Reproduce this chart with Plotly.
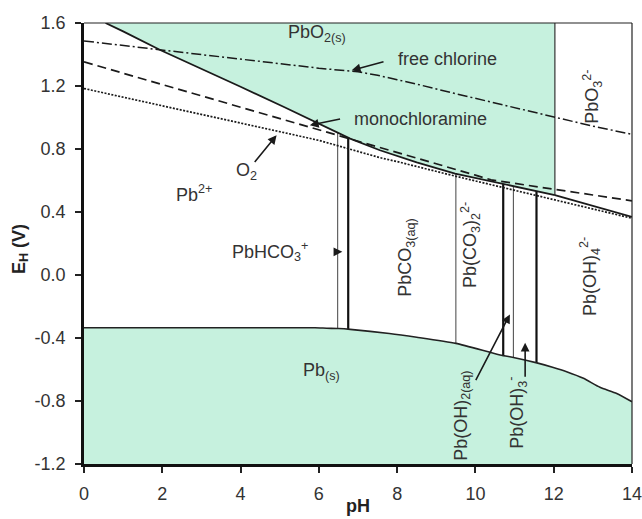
import numpy as np
import plotly.graph_objects as go

# ---------------- data ----------------
# PbO2(s) / Pb(II) boundary
ph_pbo2 = [0.55, 1.0, 1.96, 3.0, 4.0, 5.11, 6.03, 6.8, 7.56, 8.5, 9.48, 10.5, 11.5, 12.03]
e_pbo2 = [1.60, 1.547, 1.427, 1.31, 1.195, 1.067, 0.955, 0.866, 0.792, 0.715, 0.644, 0.589, 0.535, 0.507]

# PbO3^2- / Pb(OH)4^2- boundary
ph_pbo3 = [12.03, 13.0, 14.0]
e_pbo3 = [0.507, 0.44, 0.369]
ph_pbo2_edge = 12.03

# Pb(s) / Pb(II) boundary
ph_pb = [0, 2, 4, 5.9, 6.2, 6.5, 6.8, 7.8, 8.5, 9.5, 10.63, 11.0, 11.57, 11.99, 12.33,
         12.76, 13.18, 13.61, 14]
e_pb = [-0.335, -0.335, -0.335, -0.335, -0.338, -0.340, -0.345, -0.371, -0.395, -0.434,
        -0.508, -0.525, -0.558, -0.587, -0.614, -0.656, -0.713, -0.752, -0.805]

# aqueous species boundaries (pH), thick or thin
ph_vert = [6.48, 6.75, 9.50, 10.71, 10.97, 11.56]
vert_thick = [False, True, False, True, False, True]

# oxidant lines
ph_cl = [0, 1, 2, 3, 4, 5, 6, 7, 7.5, 8, 8.5, 9.43, 10.5, 12, 13, 14]
e_cl = [1.486, 1.457, 1.427, 1.398, 1.37, 1.34, 1.313, 1.29, 1.268, 1.24, 1.212, 1.155,
        1.092, 1.004, 0.945, 0.893]

ph_nh2cl = [0, 2, 4, 5.11, 6, 7, 8, 9, 10, 10.4, 11, 12, 13, 14]
e_nh2cl = [1.353, 1.21, 1.066, 0.983, 0.92, 0.85, 0.778, 0.706, 0.634, 0.604, 0.581,
           0.545, 0.508, 0.471]

ph_o2 = [0, 2, 4, 5.11, 6, 7.56, 8, 9.48, 10, 12, 14]
e_o2 = [1.184, 1.075, 0.965, 0.908, 0.855, 0.745, 0.72, 0.628, 0.597, 0.478, 0.36]

x_ticks = [0, 2, 4, 6, 8, 10, 12, 14]
y_ticks = [-1.2, -0.8, -0.4, 0.0, 0.4, 0.8, 1.2, 1.6]
y_tick_text = ["-1.2", "-0.8", "-0.4", "0.0", "0.4", "0.8", "1.2", "1.6"]

# region labels: text, pH, E, angle
lab_text = ["PbO<sub>2(s)</sub>", "Pb<sup>2+</sup>", "PbHCO<sub>3</sub><sup>+</sup>",
            "PbCO<sub>3(aq)</sub>", "Pb(CO<sub>3</sub>)<sub>2</sub><sup>2-</sup>",
            "Pb(OH)<sub>4</sub><sup>2-</sup>", "PbO<sub>3</sub><sup>2-</sup>",
            "Pb<sub>(s)</sub>", "Pb(OH)<sub>2(aq)</sub>", "Pb(OH)<sub>3</sub><sup>-</sup>",
            "free chlorine", "monochloramine", "O<sub>2</sub>"]
lab_ph = [5.95, 2.8, 4.75, 8.24, 9.86, 12.93, 12.97, 6.06, 9.65, 11.05, 9.29, 8.6, 4.16]
lab_e = [1.535, 0.517, 0.147, 0.107, 0.19, -0.012, 1.13, -0.614, -0.896, -0.877, 1.374, 0.993, 0.655]
lab_angle = [0, 0, 0, -90, -90, -90, -90, 0, -90, -90, 0, 0, 0]

# arrows: (start pH, start E) -> (tip pH, tip E)
arr_from_ph = [7.69, 6.58, 4.33, 9.99, 11.27, 6.42]
arr_from_e = [1.357, 0.993, 0.708, -0.677, -0.656, 0.147]
arr_to_ph = [6.84, 5.77, 4.92, 10.88, 11.27, 6.60]
arr_to_e = [1.30, 0.951, 0.887, -0.25, -0.43, 0.147]

# ---------------- figure ----------------
MINT = "#C6F1DE"
INK = "#1a1a1a"
FONT = "Liberation Sans, Arial, sans-serif"

fig = go.Figure()

# PbO2(s) region
fig.add_trace(go.Scatter(x=ph_pbo2 + [ph_pbo2_edge], y=e_pbo2 + [1.6], fill="toself",
                         fillcolor=MINT, mode="lines", line=dict(width=0),
                         hoverinfo="skip", showlegend=False))
# Pb(s) region
fig.add_trace(go.Scatter(x=ph_pb + [14, 0], y=e_pb + [-1.2, -1.2], fill="toself",
                         fillcolor=MINT, mode="lines", line=dict(width=0),
                         hoverinfo="skip", showlegend=False))

# vertical boundaries between aqueous species
v_top = np.interp(ph_vert, ph_pbo2, e_pbo2)
v_bot = np.interp(ph_vert, ph_pb, e_pb)
for p, t, b, thick in zip(ph_vert, v_top, v_bot, vert_thick):
    fig.add_trace(go.Scatter(x=[p, p], y=[b, t], mode="lines",
                             line=dict(color="#111" if thick else "#555",
                                       width=2.2 if thick else 1.1),
                             hoverinfo="skip", showlegend=False))

# PbO2 / PbO3 vertical
fig.add_trace(go.Scatter(x=[ph_pbo2_edge, ph_pbo2_edge], y=[e_pbo3[0], 1.6], mode="lines",
                         line=dict(color="#333", width=1.2), hoverinfo="skip", showlegend=False))

# oxidant lines
fig.add_trace(go.Scatter(x=ph_cl, y=e_cl, mode="lines",
                         line=dict(color=INK, width=1.5, dash="10px,3px,2px,3px"),
                         hoverinfo="skip", showlegend=False))
fig.add_trace(go.Scatter(x=ph_nh2cl, y=e_nh2cl, mode="lines",
                         line=dict(color=INK, width=1.7, dash="9px,5px"),
                         hoverinfo="skip", showlegend=False))
fig.add_trace(go.Scatter(x=ph_o2, y=e_o2, mode="lines",
                         line=dict(color=INK, width=1.7, dash="2px,1.5px"),
                         hoverinfo="skip", showlegend=False))

# solid boundaries
fig.add_trace(go.Scatter(x=ph_pbo2, y=e_pbo2, mode="lines",
                         line=dict(color=INK, width=1.8), hoverinfo="skip", showlegend=False))
fig.add_trace(go.Scatter(x=ph_pbo3, y=e_pbo3, mode="lines",
                         line=dict(color=INK, width=1.8), hoverinfo="skip", showlegend=False))
fig.add_trace(go.Scatter(x=ph_pb, y=e_pb, mode="lines", line_shape="spline",
                         line=dict(color="#222", width=1.6, smoothing=0.6),
                         hoverinfo="skip", showlegend=False))

annotations = []
for t, x, y, a in zip(lab_text, lab_ph, lab_e, lab_angle):
    annotations.append(dict(x=x, y=y, xref="x", yref="y", text=t, showarrow=False,
                            textangle=a, xanchor="center", yanchor="middle",
                            font=dict(family=FONT, size=18, color="#333")))
for x0, y0, x1, y1 in zip(arr_from_ph, arr_from_e, arr_to_ph, arr_to_e):
    annotations.append(dict(x=x1, y=y1, ax=x0, ay=y0, xref="x", yref="y", axref="x", ayref="y",
                            text="", showarrow=True, arrowhead=2, arrowsize=1.1,
                            arrowwidth=1.6, arrowcolor=INK))
# axis titles
annotations.append(dict(x=-0.117, y=0.487, xref="paper", yref="paper", showarrow=False,
                        xanchor="center", yanchor="middle",
                        text="<b>E<sub>H</sub> (V)</b>", textangle=-90,
                        font=dict(family=FONT, size=18, color="#222")))
annotations.append(dict(x=0.5, y=-0.095, xref="paper", yref="paper", showarrow=False,
                        xanchor="center", yanchor="middle",
                        text="<b>pH</b>", font=dict(family=FONT, size=18, color="#222")))

fig.update_layout(
    width=642, height=519,
    margin=dict(l=84, r=10, t=23, b=55, autoexpand=False),
    paper_bgcolor="white", plot_bgcolor="white",
    annotations=annotations,
    showlegend=False,
    shapes=[
        dict(type="line", xref="paper", yref="paper", x0=0, x1=1, y0=1, y1=1,
             line=dict(color="#222", width=1.2)),
        dict(type="line", xref="paper", yref="paper", x0=1, x1=1, y0=0, y1=1,
             line=dict(color="#222", width=1.2)),
    ],
)
fig.update_xaxes(range=[0, 14], tickvals=x_ticks, ticks="outside", ticklen=6, tickwidth=1.5,
                 tickcolor="#222", showline=True, linecolor="#111", linewidth=2.5,
                 showgrid=False, zeroline=False, ticklabelstandoff=6, automargin=False,
                 ticklabeloverflow="allow",
                 tickfont=dict(family=FONT, size=18, color="#333"))
fig.update_yaxes(range=[-1.2, 1.6], tickvals=y_ticks, ticktext=y_tick_text, ticks="outside",
                 ticklen=6, tickwidth=1.5, tickcolor="#222", showline=True, linecolor="#111",
                 linewidth=2.5, showgrid=False, zeroline=False, ticklabelstandoff=6,
                 automargin=False, ticklabeloverflow="allow",
                 tickfont=dict(family=FONT, size=18, color="#333"))

fig.write_html(
    "out.html",
    config={"displayModeBar": False},
    post_script="document.body.style.margin='0px';document.body.style.overflow='hidden';",
)
